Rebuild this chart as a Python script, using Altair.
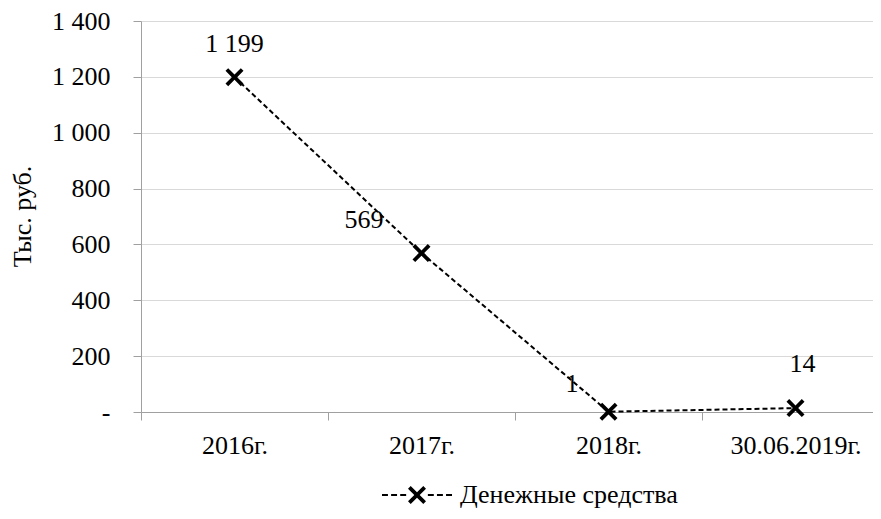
import altair as alt
import pandas as pd

# ---- data ----
categories = ["2016г.", "2017г.", "2018г.", "30.06.2019г."]
values = [1199, 569, 1, 14]
series_name = "Денежные средства"
y_ticks = [0, 200, 400, 600, 800, 1000, 1200, 1400]

df = pd.DataFrame({"cat": categories, "value": values,
                   "series": [series_name] * len(categories)})

FONT = "Liberation Serif"
FS = 26
GRID = "#d9d9d9"
AXIS = "#a0a0a0"


# ---- symbol shapes (style) ----
def x_poly(scale=1.0, a=0.3):
    pts = [(-1, -1 + a), (-1 + a, -1), (0, -a), (1 - a, -1), (1, -1 + a), (a, 0),
           (1, 1 - a), (1 - a, 1), (0, a), (-1 + a, 1), (-1, 1 - a), (-a, 0)]
    s = "M" + "L".join(f"{px*scale:.4f},{py*scale:.4f}" for px, py in pts) + "Z"
    return s


def rect(x0, x1, h):
    return f"M{x0:.4f},{-h:.4f}L{x1:.4f},{-h:.4f}L{x1:.4f},{h:.4f}L{x0:.4f},{h:.4f}Z"


X_PATH = x_poly()
dash_h = 1.0 / 35
dashes = [(-1.0, -0.83), (-0.74, -0.57), (-0.48, -0.31)]
LEGEND_PATH = x_poly(0.257, 0.3) + "".join(
    rect(a, b, dash_h) + rect(-b, -a, dash_h) for a, b in dashes)

x_enc = alt.X(
    "cat:N", sort=categories,
    scale=alt.Scale(domain=categories, range=[0, 748], paddingInner=0, paddingOuter=0),
    axis=alt.Axis(title=None, tickBand="extent", labelAngle=0, grid=False,
                  domainColor=AXIS, tickColor=AXIS, tickSize=8,
                  labelFont=FONT, labelFontSize=FS, labelColor="black",
                  labelBaseline="middle", labelPadding=25),
)

y_enc = alt.Y(
    "value:Q",
    scale=alt.Scale(domain=[0, 1400], nice=False),
    axis=alt.Axis(values=y_ticks, title="Тыс. руб.",
                  labelExpr="datum.value == 0 ? '-\u00a0\u00a0\u00a0' : replace(format(datum.value, ','), ',', ' ')",
                  grid=True, gridColor=GRID, domainColor=AXIS, tickColor=AXIS,
                  tickSize=8, labelPadding=23,
                  labelFont=FONT, labelFontSize=FS, labelColor="black",
                  titleFont=FONT, titleFontSize=FS, titleColor="black",
                  titleFontWeight="normal", titleAngle=270, titleX=-119, titleY=195,
                  titleBaseline="middle", titleAlign="center"),
)

base = alt.Chart(df).encode(x=x_enc, y=y_enc)

line = base.mark_line(color="black", strokeDash=[5, 3], strokeWidth=2)

points = base.mark_point(shape=X_PATH, filled=True, size=324, opacity=1,
                         strokeWidth=0).encode(
    color=alt.Color("series:N", scale=alt.Scale(range=["black"]),
                    legend=alt.Legend(title=None, orient="none", legendX=241, legendY=439,
                                      symbolType=LEGEND_PATH, symbolSize=4900,
                                      symbolStrokeWidth=0, symbolOpacity=1,
                                      labelFont=FONT, labelFontSize=FS, labelLimit=0,
                                      labelColor="black", labelOffset=8, padding=0))
)

# label placement per point (style only)
label_style = {
    "2016г.": dict(dx=0, dy=-33, align="center"),
    "2017г.": dict(dx=-38, dy=-33, align="right"),
    "2018г.": dict(dx=-30, dy=-28, align="right"),
    "30.06.2019г.": dict(dx=7, dy=-44, align="center"),
}

texts = []
for c in categories:
    st = label_style[c]
    t = base.transform_filter(alt.datum.cat == c).transform_calculate(
        label="replace(format(datum.value, ','), ',', ' ')"
    ).mark_text(font=FONT, fontSize=FS, color="black", baseline="middle",
                dx=st["dx"], dy=st["dy"], align=st["align"]).encode(text="label:N")
    texts.append(t)

chart = alt.layer(line, points, *texts).properties(
    width=732, height=391,
    autosize=alt.AutoSizeParams(type="none"),
    padding={"left": 133, "top": 13, "right": 0, "bottom": 99},
).configure_view(stroke=None)

chart.save("out.html", embed_options={"renderer": "svg", "actions": False})
